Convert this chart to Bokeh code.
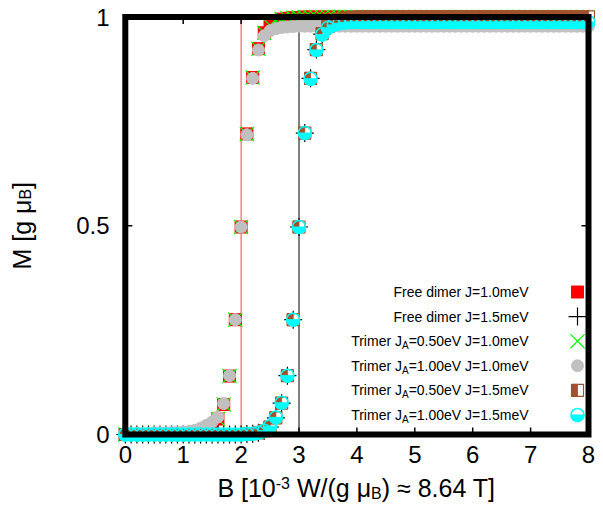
import math
from bokeh.plotting import figure
from bokeh.layouts import row, column
from bokeh.models import Range1d, FixedTicker
from bokeh.embed import file_html
from bokeh.resources import INLINE
from bokeh.core.properties import value

# ---------------- data ----------------
B = [0.0, 0.1, 0.2, 0.3, 0.4, 0.5, 0.6, 0.7, 0.8, 0.9,
     1.0, 1.1, 1.2, 1.3, 1.4, 1.5, 1.6, 1.7, 1.8, 1.9,
     2.0, 2.1, 2.2, 2.3, 2.4, 2.5, 2.6, 2.7, 2.8, 2.9,
     3.0, 3.1, 3.2, 3.3, 3.4, 3.5, 3.6, 3.7, 3.8, 3.9,
     4.0, 4.1, 4.2, 4.3, 4.4, 4.5, 4.6, 4.7, 4.8, 4.9,
     5.0, 5.1, 5.2, 5.3, 5.4, 5.5, 5.6, 5.7, 5.8, 5.9,
     6.0, 6.1, 6.2, 6.3, 6.4, 6.5, 6.6, 6.7, 6.8, 6.9,
     7.0, 7.1, 7.2, 7.3, 7.4, 7.5, 7.6, 7.7, 7.8, 7.9,
     8.0]

M_DIMER_J10 = [0.000, 0.000, 0.000, 0.000, 0.000, 0.000, 0.000, 0.000, 0.000, 0.000,
               0.000, 0.001, 0.002, 0.004, 0.009, 0.018, 0.037, 0.072, 0.140, 0.275,
               0.497, 0.720, 0.855, 0.924, 0.962, 0.980, 0.990, 0.995, 0.997, 0.998,
               0.999, 1.000, 1.000, 1.000, 1.000, 1.000, 1.000, 1.000, 1.000, 1.000,
               1.000, 1.000, 1.000, 1.000, 1.000, 1.000, 1.000, 1.000, 1.000, 1.000,
               1.000, 1.000, 1.000, 1.000, 1.000, 1.000, 1.000, 1.000, 1.000, 1.000,
               1.000, 1.000, 1.000, 1.000, 1.000, 1.000, 1.000, 1.000, 1.000, 1.000,
               1.000, 1.000, 1.000, 1.000, 1.000, 1.000, 1.000, 1.000, 1.000, 1.000,
               1.000]

M_DIMER_J15 = [0.000, 0.000, 0.000, 0.000, 0.000, 0.000, 0.000, 0.000, 0.000, 0.000,
               0.000, 0.000, 0.000, 0.000, 0.000, 0.000, 0.000, 0.000, 0.000, 0.000,
               0.000, 0.001, 0.002, 0.004, 0.009, 0.018, 0.040, 0.075, 0.141, 0.275,
               0.497, 0.722, 0.853, 0.922, 0.959, 0.976, 0.984, 0.988, 0.990, 0.990,
               0.990, 0.990, 0.990, 0.990, 0.990, 0.990, 0.990, 0.990, 0.990, 0.990,
               0.990, 0.990, 0.990, 0.990, 0.990, 0.990, 0.990, 0.990, 0.990, 0.990,
               0.990, 0.990, 0.990, 0.990, 0.990, 0.990, 0.990, 0.990, 0.990, 0.990,
               0.990, 0.990, 0.990, 0.990, 0.990, 0.990, 0.990, 0.990, 0.990, 0.990,
               0.990]

M_TRIMER_A050_J10 = [0.000, 0.000, 0.000, 0.000, 0.000, 0.000, 0.000, 0.000, 0.000, 0.000,
                     0.000, 0.001, 0.002, 0.004, 0.009, 0.018, 0.037, 0.072, 0.140, 0.275,
                     0.497, 0.720, 0.855, 0.924, 0.962, 0.980, 0.990, 0.995, 0.997, 0.998,
                     0.999, 1.000, 1.000, 1.000, 1.000, 1.000, 1.000, 1.000, 1.000, 1.000,
                     1.000, 1.000, 1.000, 1.000, 1.000, 1.000, 1.000, 1.000, 1.000, 1.000,
                     1.000, 1.000, 1.000, 1.000, 1.000, 1.000, 1.000, 1.000, 1.000, 1.000,
                     1.000, 1.000, 1.000, 1.000, 1.000, 1.000, 1.000, 1.000, 1.000, 1.000,
                     1.000, 1.000, 1.000, 1.000, 1.000, 1.000, 1.000, 1.000, 1.000, 1.000,
                     1.000]

M_TRIMER_A100_J10 = [0.003, 0.003, 0.003, 0.003, 0.003, 0.004, 0.004, 0.004, 0.005, 0.005,
                     0.006, 0.007, 0.010, 0.015, 0.022, 0.030, 0.042, 0.074, 0.141, 0.275,
                     0.497, 0.718, 0.853, 0.921, 0.955, 0.967, 0.972, 0.975, 0.976, 0.977,
                     0.978, 0.978, 0.978, 0.978, 0.978, 0.978, 0.978, 0.978, 0.978, 0.978,
                     0.978, 0.978, 0.978, 0.978, 0.978, 0.978, 0.978, 0.978, 0.978, 0.978,
                     0.978, 0.978, 0.978, 0.978, 0.978, 0.978, 0.978, 0.978, 0.978, 0.978,
                     0.978, 0.978, 0.978, 0.978, 0.978, 0.978, 0.978, 0.978, 0.978, 0.978,
                     0.978, 0.978, 0.978, 0.978, 0.978, 0.978, 0.978, 0.978, 0.978, 0.978,
                     0.978]

M_TRIMER_A050_J15 = [0.000, 0.000, 0.000, 0.000, 0.000, 0.000, 0.000, 0.000, 0.000, 0.000,
                     0.000, 0.000, 0.000, 0.000, 0.000, 0.000, 0.000, 0.000, 0.000, 0.000,
                     0.000, 0.001, 0.002, 0.004, 0.009, 0.018, 0.040, 0.075, 0.141, 0.275,
                     0.497, 0.722, 0.853, 0.922, 0.960, 0.978, 0.988, 0.994, 0.997, 0.998,
                     0.999, 1.000, 1.000, 1.000, 1.000, 1.000, 1.000, 1.000, 1.000, 1.000,
                     1.000, 1.000, 1.000, 1.000, 1.000, 1.000, 1.000, 1.000, 1.000, 1.000,
                     1.000, 1.000, 1.000, 1.000, 1.000, 1.000, 1.000, 1.000, 1.000, 1.000,
                     1.000, 1.000, 1.000, 1.000, 1.000, 1.000, 1.000, 1.000, 1.000, 1.000,
                     1.000]

M_TRIMER_A100_J15 = [0.000, 0.000, 0.000, 0.000, 0.000, 0.000, 0.000, 0.000, 0.000, 0.000,
                     0.000, 0.000, 0.000, 0.000, 0.000, 0.000, 0.000, 0.000, 0.000, 0.000,
                     0.000, 0.001, 0.002, 0.004, 0.009, 0.020, 0.041, 0.076, 0.141, 0.275,
                     0.497, 0.722, 0.852, 0.921, 0.958, 0.974, 0.981, 0.985, 0.987, 0.988,
                     0.988, 0.988, 0.988, 0.988, 0.988, 0.988, 0.988, 0.988, 0.988, 0.988,
                     0.988, 0.988, 0.988, 0.988, 0.988, 0.988, 0.988, 0.988, 0.988, 0.988,
                     0.988, 0.988, 0.988, 0.988, 0.988, 0.988, 0.988, 0.988, 0.988, 0.988,
                     0.988, 0.988, 0.988, 0.988, 0.988, 0.988, 0.988, 0.988, 0.988, 0.988,
                     0.988]

CRITICAL_B = [2.0, 3.0]
CRITICAL_COLORS = ["#ff4040", "#000000"]

X_TICKS = [0, 1, 2, 3, 4, 5, 6, 7, 8]
Y_TICKS = [0, 0.5, 1]
Y_TICK_LABELS = ["0", "0.5", "1"]

LEGEND_LABELS = [
    ("Free dimer J=1.0meV", "", ""),
    ("Free dimer J=1.5meV", "", ""),
    ("Trimer J", "A", "=0.50eV J=1.0meV"),
    ("Trimer J", "A", "=1.00eV J=1.0meV"),
    ("Trimer J", "A", "=0.50eV J=1.5meV"),
    ("Trimer J", "A", "=1.00eV J=1.5meV"),
]

XTITLE = [("B [10", "n"), ("-3", "sup"), (" W/(g μ", "n"), ("B", "sub"), (") ≈ 8.64 T]", "n")]
YTITLE = [("M [g μ", "n"), ("B", "sub"), ("]", "n")]

# ---------------- layout (page pixels) ----------------
X_MIN, X_MAX, Y_MIN, Y_MAX = 0.0, 8.0, 0.0, 1.0
TOTAL_W, TOTAL_H = 595, 502
YT_W = 44                   # strip holding the y title
FRAME_B = 444               # page y of the frame's bottom edge
XAX_H = 31                  # tick-label panel below the frame
MAIN_H = FRAME_B + XAX_H
FRAME_L = 112               # page x of frame's left edge
BX0, BX1 = 124.8, 588.0     # page x of border (x=0, x=8)
BY1, BY0 = 16.5, 434.0      # page y of border (y=1, y=0)
PXU = (BX1 - BX0) / (X_MAX - X_MIN)
PYU = (BY0 - BY1) / (Y_MAX - Y_MIN)

xr = Range1d(X_MIN - (BX0 - FRAME_L) / PXU, X_MAX + (TOTAL_W - BX1) / PXU)
yr = Range1d(Y_MIN - (FRAME_B - BY0) / PYU, Y_MAX + BY1 / PYU)

FONT = "Liberation Sans"
TICK_FS = 24
TITLE_FS = 25
SUB_FS = 16
LEG_FS = 14
LEG_SUB_FS = 10
MID = 0.3465                # em offset of the text-box centre above the baseline

CW = {' ': 278, '=': 584, '.': 278, 'e': 556, 'V': 667, 'J': 500, 'm': 833, 'A': 667,
      'B': 667, '[': 278, ']': 278, 'W': 944, '/': 278, '(': 333, ')': 333, 'g': 556,
      'μ': 576, '≈': 584, 'T': 611, '-': 333, 'M': 833, 'r': 333, 'i': 222, 'F': 611,
      'd': 556, 't': 278}


def tw(s, fs):
    return sum(CW.get(c, 556) for c in s) / 1000.0 * fs


def clean(fig):
    fig.outline_line_color = None
    fig.background_fill_color = "white"
    fig.border_fill_color = "white"
    fig.grid.visible = False


def style_axis(ax, ticks, standoff):
    ax.axis_line_color = None
    ax.major_tick_line_color = None
    ax.minor_tick_line_color = None
    ax.major_tick_in = 0
    ax.major_tick_out = 0
    ax.major_label_text_font = FONT
    ax.major_label_text_font_size = f"{TICK_FS}px"
    ax.major_label_text_color = "black"
    ax.ticker = FixedTicker(ticks=ticks)
    ax.major_label_standoff = standoff


# ---------------- main plot ----------------
p = figure(width=TOTAL_W - YT_W, height=MAIN_H, x_range=xr, y_range=yr,
           output_backend="svg", toolbar_location=None,
           min_border_left=FRAME_L - YT_W, min_border_right=0, min_border_top=0,
           min_border_bottom=XAX_H)
clean(p)
style_axis(p.xaxis[0], X_TICKS, 1)
style_axis(p.yaxis[0], Y_TICKS, 3)
p.yaxis[0].major_label_overrides = {t: s for t, s in zip(Y_TICKS, Y_TICK_LABELS)}

# vertical reference lines
for bc, col in zip(CRITICAL_B, CRITICAL_COLORS):
    p.segment(x0=[bc], y0=[Y_MIN], x1=[bc], y1=[Y_MAX], line_color=col, line_width=1)

# inward tick marks
TL = 7.0
inner_x = [t for t in X_TICKS if X_MIN < t < X_MAX]
inner_y = [t for t in Y_TICKS if Y_MIN < t < Y_MAX]
p.segment(x0=inner_x, y0=[Y_MIN] * len(inner_x), x1=inner_x, y1=[Y_MIN + TL / PYU] * len(inner_x),
          line_color="black", line_width=1.5)
p.segment(x0=inner_x, y0=[Y_MAX] * len(inner_x), x1=inner_x, y1=[Y_MAX - TL / PYU] * len(inner_x),
          line_color="black", line_width=1.5)
p.segment(x0=[X_MIN] * len(inner_y), y0=inner_y, x1=[X_MIN + TL / PXU] * len(inner_y), y1=inner_y,
          line_color="black", line_width=1.5)
p.segment(x0=[X_MAX] * len(inner_y), y0=inner_y, x1=[X_MAX - TL / PXU] * len(inner_y), y1=inner_y,
          line_color="black", line_width=1.5)

RED, GREEN, GREY, BROWN, CYAN = "#ff0000", "#00ff00", "#c0c0c0", "#a0522d", "#00ffff"
SQ, PL, XS, CI, BS, CC = 12, 18, 20, 12, 12, 13


def draw_series(xs, ys, kind):
    if kind == 0:
        p.scatter(xs, ys, marker="square", size=SQ, fill_color=RED, line_color=RED)
    elif kind == 1:
        p.scatter(xs, ys, marker="cross", size=PL, line_color="black", line_width=1.2)
    elif kind == 2:
        p.scatter(xs, ys, marker="x", size=XS, line_color=GREEN, line_width=1.2)
    elif kind == 3:
        p.scatter(xs, ys, marker="circle", size=CI, fill_color=GREY, line_color=GREY)
    elif kind == 4:
        p.scatter(xs, ys, marker="square", size=BS, fill_color="white", line_color=BROWN,
                  line_width=1.2)
        p.rect([x - BS / 4.0 / PXU for x in xs], ys, width=BS / 2.0, height=BS,
               width_units="screen", height_units="screen", fill_color=BROWN, line_color=BROWN,
               line_width=0.8)
    elif kind == 5:
        p.scatter(xs, ys, marker="circle", size=CC, fill_color=None, line_color=CYAN,
                  line_width=1.5)
        p.wedge(xs, ys, radius=CC / 2.0, radius_units="screen", start_angle=math.pi,
                end_angle=2 * math.pi, fill_color=CYAN, line_color=CYAN)


SERIES = [M_DIMER_J10, M_DIMER_J15, M_TRIMER_A050_J10, M_TRIMER_A100_J10,
          M_TRIMER_A050_J15, M_TRIMER_A100_J15]
for k, ys in enumerate(SERIES):
    draw_series(B, ys, k)

# legend (gnuplot style: text right-aligned, symbol to the right)
LEG_TX = X_MIN + (528.0 - BX0) / PXU
LEG_MX = X_MIN + (577.0 - BX0) / PXU
LEG_Y0 = Y_MIN + (BY0 - 291.5) / PYU
LEG_DY = 24.6 / PYU
for k, (a, sub, c) in enumerate(LEGEND_LABELS):
    yk = LEG_Y0 - k * LEG_DY
    common = dict(text_baseline="middle", text_font=value(FONT), text_color="black")
    if not sub:
        p.text([LEG_TX], [yk], text=[a], text_align="right", text_font_size=f"{LEG_FS}px",
               **common)
    else:
        w3 = tw(c, LEG_FS)
        w2 = tw(sub, LEG_SUB_FS)
        p.text([LEG_TX], [yk], text=[c], text_align="right", text_font_size=f"{LEG_FS}px",
               **common)
        p.text([LEG_TX - w3 / PXU], [yk - 4.5 / PYU], text=[sub], text_align="right",
               text_font_size=f"{LEG_SUB_FS}px", **common)
        p.text([LEG_TX - (w3 + w2) / PXU], [yk], text=[a], text_align="right",
               text_font_size=f"{LEG_FS}px", **common)
    draw_series([LEG_MX], [yk], k)

# border in front
p.quad(left=[X_MIN], right=[X_MAX], bottom=[Y_MIN], top=[Y_MAX], fill_color=None,
       line_color="black", line_width=6, line_join="miter")

# ---------------- y title strip ----------------
yt = figure(width=YT_W, height=MAIN_H, x_range=Range1d(0, YT_W), y_range=yr,
            x_axis_location=None, y_axis_location=None, output_backend="svg",
            toolbar_location=None, min_border_left=0, min_border_right=0,
            min_border_top=0, min_border_bottom=XAX_H)
clean(yt)
total = sum(tw(s, TITLE_FS if k == "n" else SUB_FS) for s, k in YTITLE)
pos = -total / 2.0
YT_BASE = 21.0
for s, k in YTITLE:
    fs = TITLE_FS if k == "n" else SUB_FS
    d = 4.0 if k == "sub" else 0.0
    yt.text([YT_BASE + d], [(Y_MIN + Y_MAX) / 2.0 + pos / PYU], text=[s], angle=math.pi / 2,
            text_align="left", text_baseline="alphabetic", text_font=value(FONT),
            text_font_size=f"{fs}px", text_color="black")
    pos += tw(s, fs)

# ---------------- x title strip ----------------
XT_H = TOTAL_H - MAIN_H
xt = figure(width=TOTAL_W, height=XT_H, x_range=xr, y_range=Range1d(0, XT_H),
            x_axis_location=None, y_axis_location=None, output_backend="svg",
            toolbar_location=None, min_border_left=FRAME_L, min_border_right=0,
            min_border_top=0, min_border_bottom=0)
clean(xt)

total = sum(tw(s, TITLE_FS if k == "n" else SUB_FS) for s, k in XTITLE)
pos = -total / 2.0
XT_BASELINE = 496.0         # page y of the title's baseline
for s, k in XTITLE:
    fs = TITLE_FS if k == "n" else SUB_FS
    lead = len(s) - len(s.lstrip(" "))      # SVG drops leading blanks: advance instead
    pos += tw(" " * lead, fs)
    piece = s.lstrip(" ")
    base = XT_BASELINE + {"n": 0.0, "sup": -8.0, "sub": 2.5}[k]
    yc = TOTAL_H - (base - MID * fs)   # centre of the text box, measured up from the bottom
    xt.text([(X_MIN + X_MAX) / 2.0 + pos / PXU], [yc], text=[piece], text_align="left",
            text_baseline="middle", text_font=value(FONT), text_font_size=f"{fs}px",
            text_color="black")
    pos += tw(piece, fs)

layout = column(row(yt, p), xt)
open("out.html", "w").write(file_html(layout, INLINE))
